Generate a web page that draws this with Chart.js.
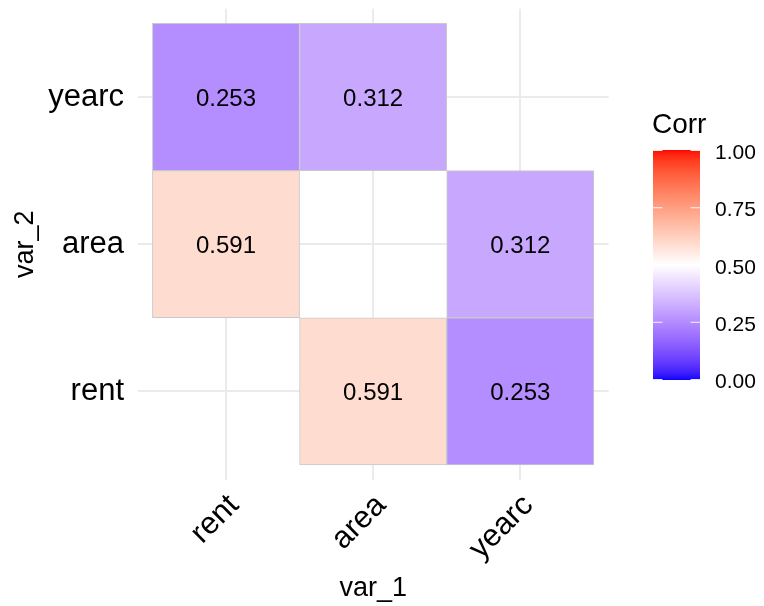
<!DOCTYPE html>
<html lang="ja">
<head>
<meta charset="utf-8">
<title>Corr heatmap</title>
<script src="https://cdn.jsdelivr.net/npm/chart.js@4/dist/chart.umd.min.js"></script>
<style>
  html, body { margin: 0; padding: 0; background: #fff; }
  #wrap { width: 764px; height: 606px; }
</style>
</head>
<body>
<div id="wrap"><canvas id="corrChart" width="764" height="606"></canvas></div>
<script>
// ----- データ -----
const vars = ['rent', 'area', 'yearc'];
const cellVar1 = ['rent', 'area', 'rent', 'yearc', 'area', 'yearc'];
const cellVar2 = ['yearc', 'yearc', 'area', 'area', 'rent', 'rent'];
const corrValues = [0.253, 0.312, 0.591, 0.312, 0.591, 0.253];
const legendTicks = [0, 0.25, 0.5, 0.75, 1];

const FONT = '"Liberation Sans", Arial, Helvetica, sans-serif';

// ----- 色の計算（Lab空間で blue - white - red を補間） -----
function toLinear(c) {
    c = c / 255;
    return c <= 0.04045 ? c / 12.92 : Math.pow((c + 0.055) / 1.055, 2.4);
}
function fromLinear(c) {
    const v = c <= 0.0031308 ? 12.92 * c : 1.055 * Math.pow(c, 1 / 2.4) - 0.055;
    return Math.round(Math.min(1, Math.max(0, v)) * 255);
}
const WX = 0.95047, WY = 1.0, WZ = 1.08883;
function rgbToLab(r, g, b) {
    const R = toLinear(r), G = toLinear(g), B = toLinear(b);
    const X = 0.4124564 * R + 0.3575761 * G + 0.1804375 * B;
    const Y = 0.2126729 * R + 0.7151522 * G + 0.0721750 * B;
    const Z = 0.0193339 * R + 0.1191920 * G + 0.9503041 * B;
    const f = t => t > 216 / 24389 ? Math.cbrt(t) : (24389 / 27 * t + 16) / 116;
    const fx = f(X / WX), fy = f(Y / WY), fz = f(Z / WZ);
    return [116 * fy - 16, 500 * (fx - fy), 200 * (fy - fz)];
}
function labToRgb(lab) {
    const fy = (lab[0] + 16) / 116;
    const fx = fy + lab[1] / 500;
    const fz = fy - lab[2] / 200;
    const inv = f => (f * f * f > 216 / 24389) ? f * f * f : (116 * f - 16) / (24389 / 27);
    const X = WX * inv(fx), Y = WY * inv(fy), Z = WZ * inv(fz);
    const R = 3.2404542 * X - 1.5371385 * Y - 0.4985314 * Z;
    const G = -0.9692660 * X + 1.8760108 * Y + 0.0415560 * Z;
    const B = 0.0556434 * X - 0.2040259 * Y + 1.0572252 * Z;
    return `rgb(${fromLinear(R)}, ${fromLinear(G)}, ${fromLinear(B)})`;
}
const lowLab = rgbToLab(0, 0, 255);
const midLab = rgbToLab(255, 255, 255);
const highLab = rgbToLab(255, 0, 0);

function corrColor(v) {
    const target = v < 0.5 ? lowLab : highLab;
    const t = Math.min(1, Math.abs(v - 0.5) / 0.5);
    return labToRgb(midLab.map((c, i) => c + (target[i] - c) * t));
}

// ----- セルの値に数値を表示するプラグイン -----
const cellLabelPlugin = {
    id: 'cellLabels',
    afterDatasetsDraw(chart) {
        const ctx = chart.ctx;
        const meta = chart.getDatasetMeta(0);
        ctx.save();
        ctx.font = '24px ' + FONT;
        ctx.fillStyle = '#000';
        ctx.textAlign = 'center';
        ctx.textBaseline = 'alphabetic';
        meta.data.forEach((bar, i) => {
            const cy = (bar.y + bar.base) / 2;
            ctx.fillText(corrValues[i].toFixed(3), bar.x, cy + 24 * 0.358);
        });
        ctx.restore();
    }
};

// ----- カラーバー（凡例）を描くプラグイン -----
const colorbarPlugin = {
    id: 'colorbar',
    afterDraw(chart) {
        const ctx = chart.ctx;
        const left = 653, right = 700, top = 150, bottom = 380;
        const valToY = v => bottom - 0.5 - v * (bottom - top - 1);

        ctx.save();
        // グラデーション本体
        for (let y = top; y < bottom; y++) {
            const v = 1 - (y + 0.5 - top) / (bottom - top);
            ctx.fillStyle = corrColor(v);
            ctx.fillRect(left, y, right - left, 1);
        }
        // 白い目盛り
        const tickLen = (right - left) / 5;
        ctx.strokeStyle = 'rgba(255, 255, 255, 0.9)';
        ctx.lineWidth = 1;
        legendTicks.forEach(v => {
            const y = valToY(v);
            ctx.beginPath();
            ctx.moveTo(left, y); ctx.lineTo(left + tickLen, y);
            ctx.moveTo(right - tickLen, y); ctx.lineTo(right, y);
            ctx.stroke();
        });
        // ラベル
        ctx.fillStyle = '#000';
        ctx.font = '21px ' + FONT;
        ctx.textAlign = 'left';
        ctx.textBaseline = 'alphabetic';
        legendTicks.forEach(v => {
            ctx.fillText(v.toFixed(2), 715, valToY(v) + 21 * 0.358 + 1);
        });
        // タイトル
        ctx.font = '28px ' + FONT;
        ctx.fillText('Corr', 652, 133);
        ctx.restore();
    }
};

// ----- ヒートマップ本体（浮動棒グラフでセルを描く） -----
const cells = corrValues.map((v, i) => {
    const row = vars.indexOf(cellVar2[i]) + 1;
    return { x: vars.indexOf(cellVar1[i]) + 1, y: [row - 0.5, row + 0.5] };
});

const fixedTicks = scale => {
    scale.ticks = vars.map((name, i) => ({ value: i + 1 }));
};

new Chart(document.getElementById('corrChart'), {
    type: 'bar',
    data: {
        datasets: [{
            data: cells,
            backgroundColor: corrValues.map(corrColor),
            borderColor: '#c9c9c9',
            borderWidth: 1,
            borderSkipped: false,
            barPercentage: 1,
            categoryPercentage: 1
        }]
    },
    options: {
        responsive: false,
        animation: false,
        layout: { padding: { left: 0, top: 8.7, right: 155.4, bottom: 0 } },
        plugins: {
            legend: { display: false },
            tooltip: { enabled: false }
        },
        scales: {
            x: {
                type: 'linear',
                min: 0.4,
                max: 3.6,
                offset: false,
                afterBuildTicks: fixedTicks,
                afterFit: scale => {
                    scale.height = 606 - 479.6;
                    scale.paddingLeft = 0;
                    scale.paddingRight = 0;
                },
                grid: { color: '#ebebeb', lineWidth: 2, drawTicks: false, offset: false },
                border: { display: false },
                ticks: {
                    autoSkip: false,
                    minRotation: 45,
                    maxRotation: 45,
                    padding: 10,
                    labelOffset: 8,
                    color: '#000',
                    font: { family: FONT, size: 31, lineHeight: 1 },
                    callback: value => vars[value - 1]
                },
                title: {
                    display: true,
                    text: 'var_1',
                    color: '#000',
                    font: { family: FONT, size: 27, lineHeight: 1 },
                    padding: { top: 0, bottom: 4 }
                }
            },
            y: {
                type: 'linear',
                min: 0.4,
                max: 3.6,
                afterBuildTicks: fixedTicks,
                afterFit: scale => {
                    scale.width = 137.7;
                    scale.paddingTop = 0;
                    scale.paddingBottom = 0;
                },
                grid: { color: '#ebebeb', lineWidth: 2, drawTicks: false },
                border: { display: false },
                ticks: {
                    padding: 13.7,
                    color: '#000',
                    font: { family: FONT, size: 31, lineHeight: 1 },
                    callback: value => vars[value - 1]
                },
                title: {
                    display: true,
                    text: 'var_2',
                    color: '#000',
                    font: { family: FONT, size: 27, lineHeight: 1 },
                    padding: { top: 11.6, bottom: 0 }
                }
            }
        }
    },
    plugins: [cellLabelPlugin, colorbarPlugin]
});
</script>
</body>
</html>
